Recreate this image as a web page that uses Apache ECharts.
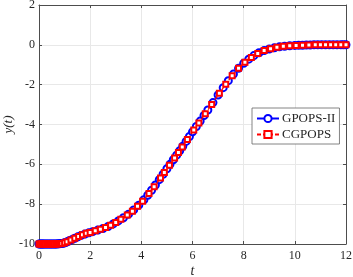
<!DOCTYPE html>
<html>
<head>
<meta charset="utf-8">
<script src="https://cdn.jsdelivr.net/npm/echarts@6/dist/echarts.min.js"></script>
<style>html,body{margin:0;padding:0;background:#fff}#c{width:353px;height:277px}</style>
</head>
<body>
<div id="c"></div>
<script>
const xTicks = [0, 2, 4, 6, 8, 10, 12];
const yTicks = [-10, -8, -6, -4, -2, 0, 2];
const seriesNames = ['GPOPS-II', 'CGPOPS'];

const gpopsT = [0,0.04,0.08,0.12,0.16,0.2,0.25,0.3,0.35,0.4,0.45,0.5,0.55,0.6,0.65,0.7,0.75,0.8,0.85,0.9,0.95,1.0,1.06,1.12,1.2,1.3,1.4,1.52,1.65,1.8,1.95,2.1,2.3,2.5,2.7,2.9,3.1,3.3,3.5,3.7,3.9,4.1,4.25,4.4,4.55,4.7,4.85,5.0,5.12,5.25,5.38,5.5,5.62,5.75,5.88,6.0,6.15,6.3,6.45,6.6,6.8,7.0,7.2,7.4,7.6,7.8,8.0,8.2,8.4,8.6,8.8,9.0,9.2,9.4,9.6,9.8,10.0,10.15,10.3,10.45,10.6,10.75,10.9,11.05,11.2,11.35,11.5,11.65,11.8,11.9,12.0];
const gpopsY = [-10,-10,-10,-10,-10,-10,-10,-10,-10,-10,-10,-10,-10,-10,-10,-10,-9.99,-9.99,-9.98,-9.97,-9.96,-9.94,-9.91,-9.88,-9.83,-9.77,-9.71,-9.64,-9.57,-9.5,-9.44,-9.38,-9.3,-9.22,-9.12,-8.99,-8.84,-8.68,-8.5,-8.29,-8.05,-7.78,-7.55,-7.3,-7.04,-6.77,-6.5,-6.22,-6.0,-5.77,-5.54,-5.32,-5.09,-4.85,-4.6,-4.37,-4.1,-3.83,-3.55,-3.27,-2.9,-2.52,-2.15,-1.8,-1.47,-1.18,-0.93,-0.72,-0.54,-0.4,-0.29,-0.21,-0.15,-0.1,-0.07,-0.05,-0.03,-0.02,-0.02,-0.01,-0.01,0,0,0,0,0,0,0,0,0,0];

const cgpopsT = [0,0.05,0.1,0.15,0.2,0.25,0.3,0.35,0.4,0.45,0.5,0.55,0.6,0.65,0.7,0.75,0.8,0.85,0.9,1.0,1.1,1.25,1.4,1.55,1.7,1.85,2.0,2.2,2.4,2.6,2.8,3.0,3.2,3.45,3.65,3.85,4.05,4.3,4.5,4.75,4.9,5.1,5.3,5.45,5.6,5.8,6.05,6.25,6.5,6.75,7.05,7.3,7.55,7.8,8.05,8.3,8.55,8.8,9.05,9.3,9.55,9.8,10.05,10.3,10.55,10.8,11.0,11.2,11.4,11.6,11.8,12.0];
const cgpopsY = [-10,-10,-10,-10,-10,-10,-10,-10,-10,-10,-10,-10,-10,-10,-10,-9.99,-9.99,-9.98,-9.97,-9.94,-9.89,-9.8,-9.71,-9.62,-9.53,-9.46,-9.42,-9.33,-9.26,-9.17,-9.06,-8.92,-8.76,-8.55,-8.35,-8.11,-7.85,-7.47,-7.13,-6.68,-6.41,-6.04,-5.68,-5.41,-5.13,-4.75,-4.28,-3.92,-3.46,-2.99,-2.43,-1.98,-1.55,-1.18,-0.88,-0.63,-0.44,-0.29,-0.2,-0.12,-0.07,-0.05,-0.03,-0.02,-0.01,0,0,0,0,0,0,0];

const zip = (a, b) => a.map((v, i) => [v, b[i]]);
const FONT = 'Liberation Serif';
const axisCol = '#4d4d4d';

const chart = echarts.init(document.getElementById('c'), null, {renderer: 'canvas'});
const xBase = {
  type: 'value', min: xTicks[0], max: xTicks[xTicks.length - 1], interval: 2,
  axisLine: {show: true, onZero: false, lineStyle: {color: axisCol, width: 1}},
  axisTick: {show: true, inside: true, length: 3, lineStyle: {color: axisCol}},
  splitLine: {show: false}
};
const yBase = {
  type: 'value', min: yTicks[0], max: yTicks[yTicks.length - 1], interval: 2,
  axisLine: {show: true, onZero: false, lineStyle: {color: axisCol, width: 1}},
  axisTick: {show: true, inside: true, length: 3, lineStyle: {color: axisCol}},
  splitLine: {show: false}
};
chart.setOption({
  animation: false,
  grid: {left: 39, right: 7, top: 5, bottom: 33, containLabel: false, outerBoundsMode: 'none'},
  xAxis: [
    Object.assign({}, xBase, {
      position: 'bottom',
      name: 't', nameLocation: 'middle', nameGap: 20, nameMoveOverlap: false,
      nameTextStyle: {fontFamily: FONT, fontStyle: 'italic', fontSize: 14, color: '#262626'},
      axisLabel: {fontFamily: FONT, fontSize: 12, color: '#262626', margin: 6},
      splitLine: {show: true, lineStyle: {color: '#e8e8e8', width: 1}}
    }),
    Object.assign({}, xBase, {position: 'top', axisLabel: {show: false}})
  ],
  yAxis: [
    Object.assign({}, yBase, {
      position: 'left',
      name: 'y(t)', nameLocation: 'middle', nameGap: 24, nameRotate: 90, nameMoveOverlap: false,
      nameTextStyle: {fontFamily: FONT, fontStyle: 'italic', fontSize: 13, color: '#262626'},
      axisLabel: {fontFamily: FONT, fontSize: 12, color: '#262626', margin: 4,
        formatter: v => String(v)},
      splitLine: {show: true, lineStyle: {color: '#e8e8e8', width: 1}}
    }),
    Object.assign({}, yBase, {position: 'right', axisLabel: {show: false}})
  ],
  legend: {
    orient: 'vertical', left: 252, top: 108,
    padding: [4, 4, 3, 4], itemGap: 3, itemWidth: 22, itemHeight: 9,
    backgroundColor: '#fff', borderColor: '#666', borderWidth: 0.8,
    textStyle: {fontFamily: FONT, fontSize: 13, color: '#262626', padding: [0, 0, 0, -2]},
    data: seriesNames
  },
  series: [
    {
      name: seriesNames[0], type: 'line', data: zip(gpopsT, gpopsY),
      symbol: 'emptyCircle', symbolSize: 7,
      lineStyle: {color: '#0000ff', width: 1.5},
      itemStyle: {color: '#0000ff', borderColor: '#0000ff', borderWidth: 1.5},
      z: 2
    },
    {
      name: seriesNames[1], type: 'line', data: zip(cgpopsT, cgpopsY),
      symbol: 'emptyRect', symbolSize: 5,
      lineStyle: {color: '#ff0000', width: 1.2, type: [4, 2]},
      itemStyle: {color: '#ff0000', borderColor: '#ff0000', borderWidth: 1.3},
      z: 3
    }
  ]
});
</script>
</body>
</html>
